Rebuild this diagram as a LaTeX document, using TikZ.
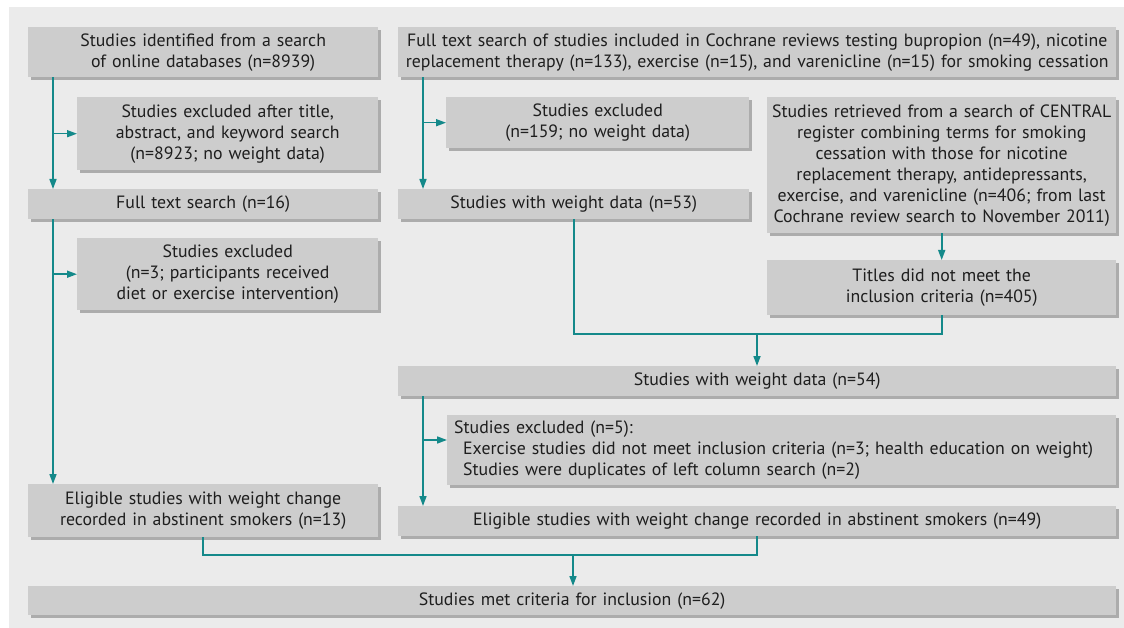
\documentclass[tikz,border=0pt]{standalone}
\usepackage{fontspec}
\setmainfont{PT Sans}
\usetikzlibrary{arrows.meta,shadows,calc}
\definecolor{bg}{RGB}{235,235,235}
\definecolor{boxgray}{RGB}{205,205,205}
\definecolor{shgray}{RGB}{172,172,172}
\definecolor{teal2}{RGB}{20,137,138}
\definecolor{txt}{RGB}{30,30,30}
\tikzset{
  box/.style={fill=boxgray, inner sep=0pt, anchor=north west, align=center,
    font=\fontsize{17.8}{21}\selectfont, text=txt,
    drop shadow={shadow xshift=3pt, shadow yshift=-3pt, fill=shgray, opacity=1}},
  conn/.style={draw=teal2, line width=1.6pt},
  arr/.style={conn, -{Triangle[length=10pt,width=7pt]}},
}
\begin{document}
\begin{tikzpicture}[x=1pt,y=-1pt]
\useasboundingbox (0,0) rectangle (1124,628);
\fill[bg] (9,7) rectangle (1124,628);
% left column
\node[box, minimum width=350pt, minimum height=50pt, text width=346pt] (b1) at (28,27)
  {Studies identified from a search\\of online databases (n=8939)};
\node[box, minimum width=301pt, minimum height=73pt, text width=297pt] (b2) at (77,97)
  {Studies excluded after title,\\abstract, and keyword search\\(n=8923; no weight data)};
\node[box, minimum width=350pt, minimum height=30pt, text width=346pt] (b3) at (28,189)
  {Full text search (n=16)};
\node[box, minimum width=301pt, minimum height=72pt, text width=297pt] (b4) at (77,238)
  {Studies excluded\\(n=3; participants received\\diet or exercise intervention)};
\node[box, minimum width=350pt, minimum height=53pt, text width=346pt] (b5) at (28,484)
  {Eligible studies with weight change\\recorded in abstinent smokers (n=13)};
% right column
\node[box, minimum width=718pt, minimum height=50pt, text width=716pt] (r1) at (398,27)
  {Full text search of studies included in Cochrane reviews testing bupropion (n=49), nicotine\\replacement therapy (n=133), exercise (n=15), and varenicline (n=15) for smoking cessation};
\node[box, minimum width=303pt, minimum height=51pt, text width=299pt] (r2) at (446,97)
  {Studies excluded\\(n=159; no weight data)};
\node[box, minimum width=351pt, minimum height=30pt, text width=347pt] (r3) at (398,189)
  {Studies with weight data (n=53)};
\node[box, minimum width=349pt, minimum height=136pt, text width=347pt] (c1) at (767,97)
  {Studies retrieved from a search of CENTRAL\\register combining terms for smoking\\cessation with those for nicotine\\replacement therapy, antidepressants,\\exercise, and varenicline (n=406; from last\\Cochrane review search to November 2011)};
\node[box, minimum width=349pt, minimum height=55pt, text width=345pt] (c2) at (767,260)
  {Titles did not meet the\\inclusion criteria (n=405)};
\node[box, minimum width=718pt, minimum height=30pt, text width=708pt] (r4) at (398,366)
  {Studies with weight data (n=54)};
\node[box, minimum width=669pt, minimum height=70pt, text width=655pt, align=left] (r5) at (447,415)
  {Studies excluded (n=5):\\\hspace*{9pt}Exercise studies did not meet inclusion criteria (n=3; health education on weight)\\\hspace*{9pt}Studies were duplicates of left column search (n=2)};
\node[box, minimum width=718pt, minimum height=30pt, text width=708pt] (r6) at (398,506)
  {Eligible studies with weight change recorded in abstinent smokers (n=49)};
\node[box, minimum width=1088pt, minimum height=29pt, text width=1078pt] (f) at (28,586)
  {Studies met criteria for inclusion (n=62)};
% connectors
\coordinate (L) at (53,0);
\coordinate (R) at (423,0);
\coordinate (B5) at (423,440);
\coordinate (J1) at (757,334);
\coordinate (J2) at (573,555);
\draw[arr] (L |- b1.south) -- (L |- b3.north);
\draw[arr] (L |- b2.west) -- (b2.west);
\draw[arr] (L |- b3.south) -- (L |- b5.north);
\draw[arr] (L |- b4.west) -- (b4.west);
\draw[arr] (R |- r1.south) -- (R |- r3.north);
\draw[arr] (R |- r2.west) -- (r2.west);
\draw[arr] (c1.south) -- (c2.north);
\draw[conn] (r3.south) |- (J1) -| (c2.south);
\draw[arr] (J1) -- (J1 |- r4.north);
\draw[arr] (R |- r4.south) -- (R |- r6.north);
\draw[arr] (B5) -- (B5 -| r5.west);
\draw[conn] (b5.south) |- (J2) -| (r6.south);
\draw[arr] (J2) -- (J2 |- f.north);
\end{tikzpicture}
\end{document}
